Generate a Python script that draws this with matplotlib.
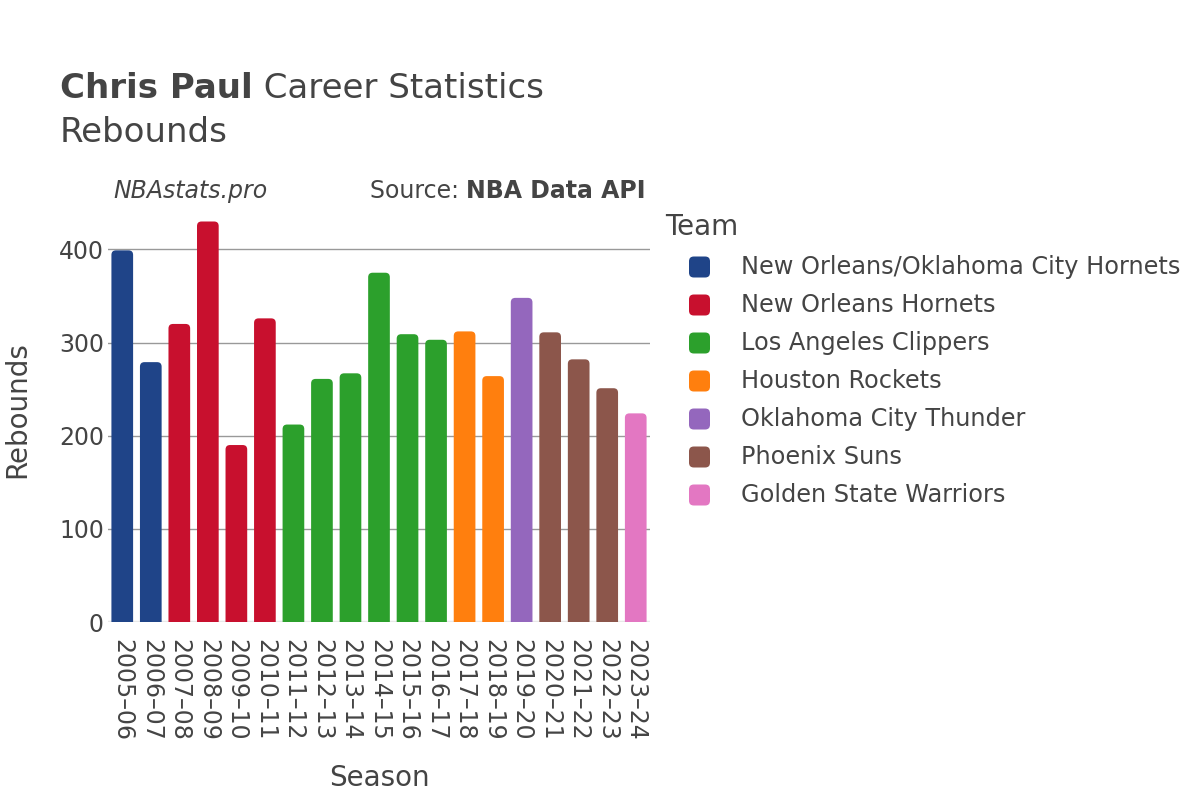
import matplotlib
matplotlib.use("Agg")
import matplotlib.pyplot as plt
from matplotlib.patches import FancyBboxPatch

seasons = ["2005–06", "2006–07", "2007–08", "2008–09", "2009–10", "2010–11",
           "2011–12", "2012–13", "2013–14", "2014–15", "2015–16", "2016–17",
           "2017–18", "2018–19", "2019–20", "2020–21", "2021–22", "2022–23", "2023–24"]
rebounds = [399, 279, 320, 430, 190, 326, 212, 261, 267, 375, 309, 303,
            312, 264, 348, 311, 282, 251, 224]
teams = ["New Orleans/Oklahoma City Hornets", "New Orleans/Oklahoma City Hornets",
         "New Orleans Hornets", "New Orleans Hornets", "New Orleans Hornets", "New Orleans Hornets",
         "Los Angeles Clippers", "Los Angeles Clippers", "Los Angeles Clippers",
         "Los Angeles Clippers", "Los Angeles Clippers", "Los Angeles Clippers",
         "Houston Rockets", "Houston Rockets", "Oklahoma City Thunder",
         "Phoenix Suns", "Phoenix Suns", "Phoenix Suns", "Golden State Warriors"]
team_order = ["New Orleans/Oklahoma City Hornets", "New Orleans Hornets", "Los Angeles Clippers",
              "Houston Rockets", "Oklahoma City Thunder", "Phoenix Suns", "Golden State Warriors"]
team_colors = ["#1f4488", "#c8102e", "#2ca02c", "#ff7f0e", "#9467bd", "#8c564b", "#e377c2"]
yticks = [0, 100, 200, 300, 400]

TXT = "#444444"
plt.rcParams['font.family'] = ['DejaVu Sans']

fig = plt.figure(figsize=(12, 8), dpi=100)
W, H = 1200, 800
left, right, bottom, top = 108, 650, 622, 201
ax = fig.add_axes([left / W, 1 - bottom / H, (right - left) / W, (bottom - top) / H])

color_map = dict(zip(team_order, team_colors))
x = list(range(len(seasons)))
bars = ax.bar(x, rebounds, width=0.76, color=[color_map[t] for t in teams], zorder=3)
ax.set_xlim(-0.5, len(seasons) - 0.5)
ax.set_ylim(0, 452)

# rounded tops
px_per_x = (right - left) / len(seasons)
px_per_y = (bottom - top) / 452
aspect = (1 / px_per_y) / (1 / px_per_x)
for b in bars:
    b.set_visible(False)
    bx, bw, bh = b.get_x(), b.get_width(), b.get_height()
    p = FancyBboxPatch((bx, -30), bw, bh + 30,
                       boxstyle="round,pad=0,rounding_size=%f" % (4.5 / px_per_x),
                       mutation_aspect=aspect, facecolor=b.get_facecolor(),
                       edgecolor="none", zorder=3, clip_on=True)
    ax.add_patch(p)

ax.set_yticks(yticks)
ax.set_yticklabels([str(v) for v in yticks], fontsize=17, color=TXT)
ax.set_xticks(x)
ax.set_xticklabels(seasons, rotation=-90, fontsize=17, color=TXT, va="top", ha="center")
ax.tick_params(axis="both", length=0)
ax.tick_params(axis="x", pad=12)
ax.tick_params(axis="y", pad=3)
for s in ax.spines.values():
    s.set_visible(False)
ax.grid(axis="y", color="#999999", linewidth=1, zorder=0)
ax.axhline(0, color="#e8e8e8", linewidth=2.5, zorder=2)
ax.set_axisbelow(True)

# titles
t1 = fig.text(60 / W, 1 - 88 / H, "Chris Paul", fontsize=24.5, color=TXT, va="center", ha="left",
              fontweight="bold")
fig.canvas.draw()
bb = t1.get_window_extent()
fig.text(bb.x1 / W, 1 - 88 / H, " Career Statistics", fontsize=24.5, color=TXT, va="center", ha="left")
fig.text(60 / W, 1 - 132 / H, "Rebounds", fontsize=24.5, color=TXT, va="center", ha="left")

fig.text(113 / W, 1 - 191 / H, "NBAstats.pro", fontsize=17, style="italic", color=TXT, va="center", ha="left")
t2 = fig.text(646 / W, 1 - 191 / H, "NBA Data API", fontsize=17, fontweight="bold", color=TXT,
              va="center", ha="right")
fig.canvas.draw()
bb2 = t2.get_window_extent()
fig.text(bb2.x0 / W, 1 - 191 / H, "Source: ", fontsize=17, color=TXT, va="center", ha="right")

fig.text(379 / W, 1 - 778 / H, "Season", fontsize=20, color=TXT, va="center", ha="center")
fig.text(17 / W, 1 - 410 / H, "Rebounds", fontsize=20, color=TXT, va="center", ha="center", rotation=90)

# legend
fig.text(665 / W, 1 - 227 / H, "Team", fontsize=20, color=TXT, va="center", ha="left")
for i, (tm, c) in enumerate(zip(team_order, team_colors)):
    yc = 267 + i * 38
    sq = FancyBboxPatch((689 / W, 1 - (yc + 10.5) / H), 21 / W, 21 / H,
                        boxstyle="round,pad=0,rounding_size=0.004", mutation_aspect=W / H,
                        transform=fig.transFigure, facecolor=c, edgecolor="none")
    fig.patches.append(sq)
    fig.text(741 / W, 1 - yc / H, tm, fontsize=17.3, color=TXT, va="center", ha="left")

fig.savefig("out.png", dpi=100)
